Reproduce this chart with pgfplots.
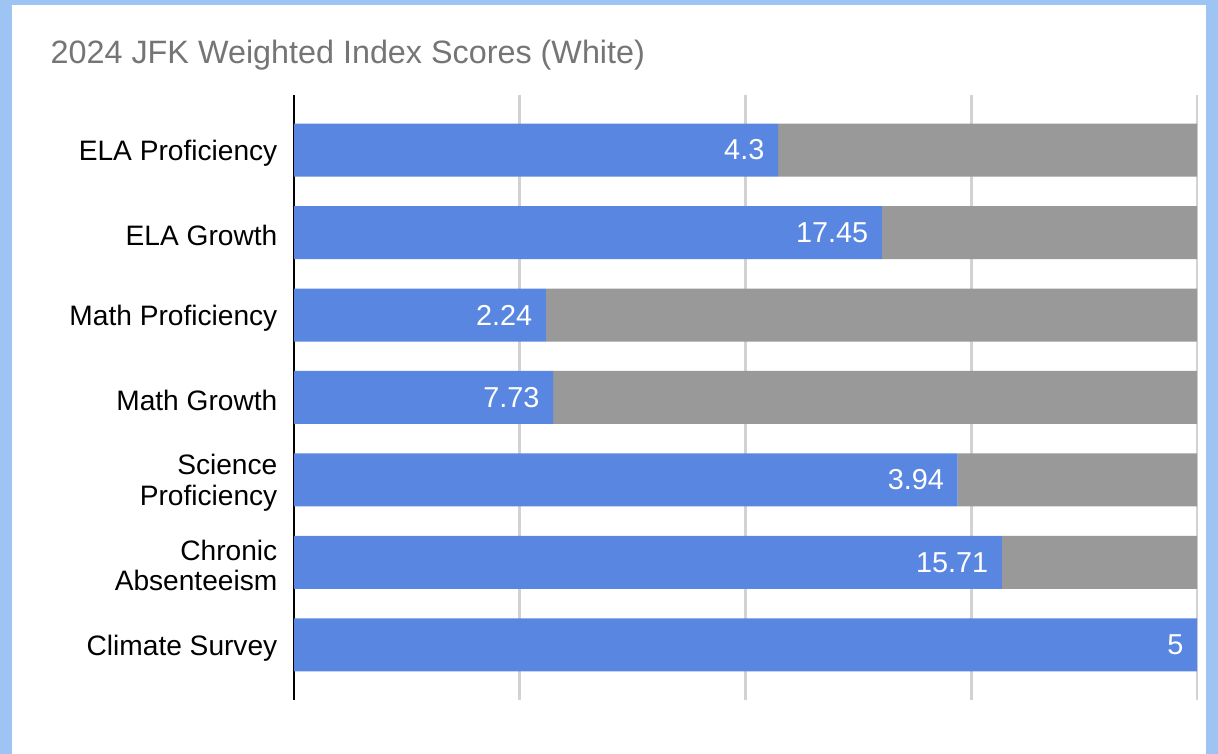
\documentclass[border=0pt]{standalone}
\usepackage{fontspec}
\setmainfont{Liberation Sans}
\usepackage{pgfplots}
\usepackage{pgfplotstable}
\pgfplotsset{compat=1.18}

\definecolor{barblue}{RGB}{88,134,224}
\definecolor{bargray}{RGB}{153,153,153}
\definecolor{gridgray}{RGB}{210,210,210}
\definecolor{titlegray}{RGB}{117,117,117}
\definecolor{frameblue}{RGB}{157,196,242}

% value = score shown on the bar, pct = share of the maximum (blue), rest = remainder (gray)
\pgfplotstableread{
idx value pct rest
0 4.3   53.6 46.4
1 17.45 65.1 34.9
2 2.24  27.9 72.1
3 7.73  28.7 71.3
4 3.94  73.5 26.5
5 15.71 78.4 21.6
6 5     100  0
}\scores

\pgfplotsset{chartbox/.style={
    at={(2.94cm,0.54cm)}, anchor=south west,
    scale only axis,
    width=9.03cm, height=6.05cm,
    xmin=0, xmax=100,
    ymin=-0.667, ymax=6.667,
    y dir=reverse,
}}

\begin{document}
\begin{tikzpicture}
\fill[frameblue] (0,0) rectangle (12.18,7.54);
\fill[white] (0.12,0) rectangle (12.06,7.49);
\node[anchor=base west, inner sep=0pt, text=titlegray, font=\fontsize{9.2}{11}\selectfont]
  at (0.50,6.90) {2024 JFK Weighted Index Scores (White)};

\begin{axis}[
    chartbox,
    xbar stacked,
    bar width=0.53cm,
    xtick={25,50,75,100},
    xticklabels={},
    extra x ticks={0},
    extra x tick labels={},
    extra x tick style={grid style={black, line width=0.8pt}},
    xmajorgrids,
    grid style={gridgray, line width=0.8pt},
    ytick={0,...,6},
    yticklabels={ELA Proficiency, ELA Growth, Math Proficiency, Math Growth,
      {Science\\Proficiency}, {Chronic\\Absenteeism}, Climate Survey},
    yticklabel style={align=right, inner sep=0pt, xshift=-0.16cm, yshift=-0.03cm,
      font=\fontsize{8}{8.7}\selectfont},
    major tick length=0pt,
    axis line style={draw=none},
]
\addplot[fill=barblue, draw=none] table[x=pct, y=idx] {\scores};
\addplot[fill=bargray, draw=none] table[x=rest, y=idx] {\scores};
\end{axis}

% value labels at the end of the blue bars
\begin{axis}[chartbox, hide axis]
\addplot[only marks, mark=none,
    point meta=explicit symbolic,
    nodes near coords,
    every node near coord/.append style={anchor=east, inner sep=0pt, xshift=-0.13cm,
      text=white, font=\fontsize{8.2}{9}\selectfont}]
  table[x=pct, y=idx, meta=value] {\scores};
\end{axis}
\end{tikzpicture}
\end{document}
